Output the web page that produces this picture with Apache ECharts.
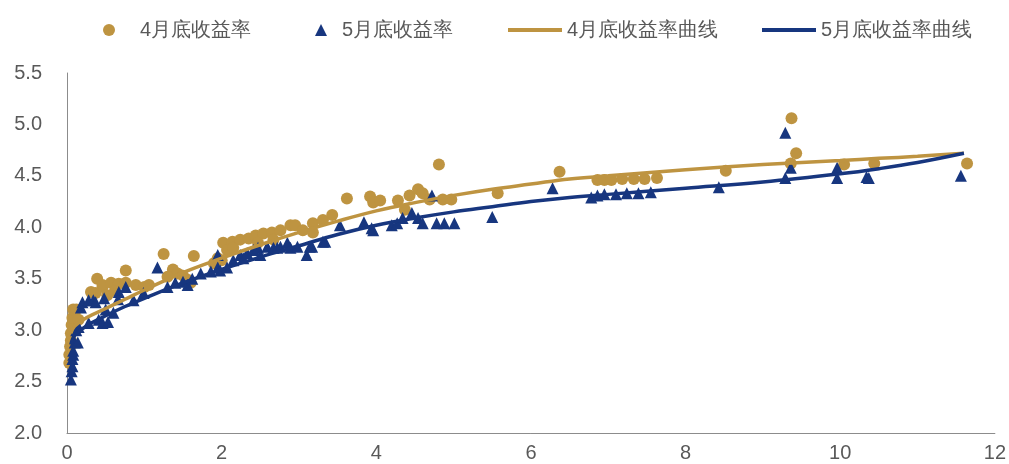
<!DOCTYPE html>
<html>
<head>
<meta charset="utf-8">
<script src="https://cdn.jsdelivr.net/npm/echarts@6/dist/echarts.min.js"></script>
<style>
  html, body { margin: 0; padding: 0; background: #ffffff; }
  #chart { width: 1009px; height: 464px; }
</style>
</head>
<body>
<div id="chart"></div>
<script>
// Series names
const seriesNames = ['4月底收益率', '5月底收益率', '4月底收益率曲线', '5月底收益率曲线'];

// End-of-April yields: term (years) and yield (%)
const aprX = [0.03,0.03,0.04,0.05,0.05,0.06,0.07,0.08,0.12,0.15,
  0.31,0.37,0.39,0.46,0.46,0.52,0.57,0.67,0.76,0.76,0.62,
  0.89,1.06,1.0,1.25,1.37,1.43,1.3,1.56,1.6,1.64,1.5,
  1.9,1.95,2.02,2.07,2.14,2.15,2.24,2.35,2.44,2.54,2.65,2.76,2.89,2.67,2.47,2.0,
  2.95,3.05,3.18,3.18,3.31,3.43,3.62,3.92,3.96,4.05,
  4.28,4.37,4.43,4.54,4.6,4.69,4.81,4.86,4.97,
  5.57,6.37,6.86,6.95,7.04,7.18,7.33,7.47,7.63,8.52,9.36,9.37,9.43,10.05,10.44,11.64];
const aprY = [2.68,2.76,2.84,2.9,2.97,3.05,3.12,3.2,3.2,3.1,
  3.37,3.36,3.5,3.42,3.44,3.34,3.46,3.45,3.58,3.46,3.38,
  3.44,3.44,3.42,3.74,3.59,3.55,3.52,3.49,3.46,3.72,3.53,
  3.65,3.7,3.85,3.78,3.86,3.8,3.88,3.89,3.92,3.94,3.95,3.97,4.02,3.88,3.85,3.68,
  4.02,3.97,4.04,3.95,4.07,4.12,4.28,4.3,4.24,4.26,
  4.26,4.17,4.31,4.37,4.33,4.27,4.61,4.27,4.27,
  4.33,4.54,4.46,4.46,4.46,4.47,4.47,4.47,4.48,4.55,4.62,5.06,4.72,4.61,4.62,4.62];

// End-of-May yields: term (years) and yield (%)
const mayX = [0.05,0.06,0.07,0.07,0.08,0.08,0.1,0.14,0.12,0.15,
  0.18,0.2,0.28,0.34,0.37,0.48,0.67,0.76,0.5,0.41,0.46,0.53,0.28,0.6,0.66,
  0.86,0.99,1.17,1.3,1.4,1.56,1.5,1.73,1.86,1.95,1.98,1.62,
  1.95,2.07,2.15,2.24,2.28,2.33,2.41,2.47,2.5,2.59,2.67,2.72,2.76,2.85,2.89,2.98,
  3.1,3.14,3.17,3.31,3.34,3.53,3.84,3.94,3.96,4.2,4.27,
  4.34,4.46,4.54,4.6,4.72,4.78,4.88,5.01,5.5,
  6.28,6.78,6.86,6.95,7.1,7.24,7.39,7.55,8.43,9.29,9.29,9.36,9.96,9.96,10.34,10.37,11.56];
const mayY = [2.52,2.6,2.65,2.72,2.76,2.8,2.88,2.88,3.0,3.03,
  3.22,3.27,3.29,3.29,3.27,3.31,3.37,3.42,3.2,3.1,3.07,3.08,3.07,3.17,3.3,
  3.29,3.36,3.61,3.42,3.46,3.44,3.47,3.55,3.57,3.61,3.58,3.5,
  3.73,3.61,3.68,3.73,3.7,3.75,3.78,3.8,3.73,3.81,3.8,3.8,3.81,3.85,3.8,3.81,
  3.73,3.81,3.81,3.86,3.86,4.02,4.05,3.99,3.97,4.02,4.04,
  4.09,4.14,4.09,4.04,4.31,4.04,4.04,4.04,4.1,
  4.38,4.29,4.31,4.32,4.32,4.33,4.33,4.34,4.39,4.92,4.48,4.58,4.58,4.48,4.49,4.48,4.5];

// Fitted yield curves
const curveX = [0.05,0.1,0.25,0.5,0.75,1,1.5,2,2.5,3,3.5,4,4.5,5,5.5,6,6.5,7,8,9,10,10.5,11,11.6];
const aprCurveY = [2.97,3.04,3.12,3.21,3.3,3.39,3.56,3.7,3.83,3.95,4.06,4.16,4.24,4.31,4.37,4.42,4.47,4.5,4.56,4.61,4.65,4.67,4.69,4.72];
const mayCurveY = [2.86,2.95,3.04,3.14,3.23,3.31,3.46,3.59,3.71,3.82,3.93,4.02,4.09,4.15,4.2,4.25,4.29,4.32,4.38,4.44,4.52,4.57,4.63,4.72];

// Axis ticks
const xTicks = { min: 0, max: 12, interval: 2 };
const yTicks = { min: 2.0, max: 5.5, interval: 0.5 };

const GOLD = '#BE9441';
const NAVY = '#17367F';
const TEXT = '#595959';
const FONT = '"Liberation Sans", Arial, sans-serif';

const zip = (xs, ys) => xs.map((x, i) => [x, ys[i]]);

const legendBase = {
  orient: 'horizontal',
  top: 15,
  selectedMode: false,
  textStyle: { color: TEXT, fontSize: 20, fontFamily: FONT }
};

const chart = echarts.init(document.getElementById('chart'), null, { renderer: 'canvas' });

chart.setOption({
  animation: false,
  backgroundColor: '#ffffff',
  textStyle: { fontFamily: FONT },
  legend: [
    Object.assign({}, legendBase, {
      left: 98, itemWidth: 12, itemHeight: 12,
      data: [{ name: seriesNames[0], icon: 'circle', textStyle: { padding: [0, 0, 0, 20] } }]
    }),
    Object.assign({}, legendBase, {
      left: 310, itemWidth: 12, itemHeight: 12,
      data: [{ name: seriesNames[1], icon: 'triangle', textStyle: { padding: [0, 0, 0, 10] } }]
    }),
    Object.assign({}, legendBase, {
      left: 503, itemWidth: 54, itemHeight: 4,
      data: [{ name: seriesNames[2], icon: 'rect' }]
    }),
    Object.assign({}, legendBase, {
      left: 757, itemWidth: 54, itemHeight: 4,
      data: [{ name: seriesNames[3], icon: 'rect' }]
    })
  ],
  grid: { left: 67, right: 12, top: 73, bottom: 31, containLabel: false },
  xAxis: {
    type: 'value',
    min: xTicks.min, max: xTicks.max, interval: xTicks.interval,
    axisLine: { show: true, lineStyle: { color: '#8C8C8C', width: 1 } },
    axisTick: { show: false },
    splitLine: { show: false },
    axisLabel: { color: TEXT, fontSize: 20, fontFamily: FONT, margin: 10 }
  },
  yAxis: {
    type: 'value',
    min: yTicks.min, max: yTicks.max, interval: yTicks.interval,
    axisLine: { show: true, lineStyle: { color: '#8C8C8C', width: 1 } },
    axisTick: { show: false },
    splitLine: { show: false },
    axisLabel: {
      color: TEXT, fontSize: 20, fontFamily: FONT, margin: 25,
      formatter: v => v.toFixed(1)
    }
  },
  series: [
    {
      name: seriesNames[0], type: 'scatter', symbol: 'circle', symbolSize: 12,
      itemStyle: { color: GOLD, opacity: 1 },
      data: zip(aprX, aprY), z: 2
    },
    {
      name: seriesNames[1], type: 'scatter', symbol: 'triangle', symbolSize: 12,
      itemStyle: { color: NAVY, opacity: 1 },
      data: zip(mayX, mayY), z: 3
    },
    {
      name: seriesNames[2], type: 'line', smooth: 0.4, symbol: 'none',
      color: GOLD,
      lineStyle: { color: GOLD, width: 3.5 },
      itemStyle: { color: GOLD },
      data: zip(curveX, aprCurveY), z: 4
    },
    {
      name: seriesNames[3], type: 'line', smooth: 0.4, symbol: 'none',
      color: NAVY,
      lineStyle: { color: NAVY, width: 3.5 },
      itemStyle: { color: NAVY },
      data: zip(curveX, mayCurveY), z: 5
    }
  ]
});
</script>
</body>
</html>
